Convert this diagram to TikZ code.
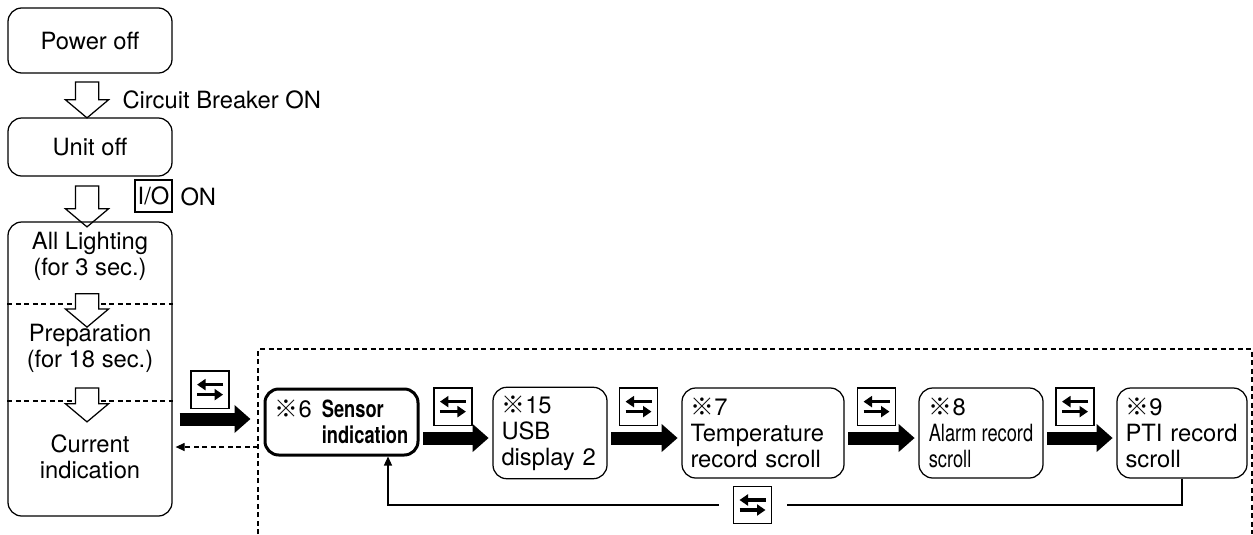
\documentclass[tikz,border=0pt]{standalone}
\usepackage{fontspec}
\setmainfont{TeX Gyre Heros}
\newfontfamily\cjk{Noto Sans CJK JP}
\newfontfamily\narrowfont[FakeStretch=0.77]{TeX Gyre Heros}
\usetikzlibrary{arrows.meta,positioning,shapes.arrows}
\newcommand\kome{{\cjk ※}}

\begin{document}
\begin{tikzpicture}[x=0.4pt, y=-0.4pt, font=\fontsize{9.5}{10.4}\selectfont,
  st/.style={draw, rounded corners=5.5pt, line width=0.5pt, minimum width=65.6pt, align=center},
  rbox/.style={st, minimum height=36pt, align=left, inner xsep=3.4pt},
  txt/.style={align=center, inner sep=0pt},
  harrow/.style={single arrow, draw, fill=white, line width=0.5pt, shape border rotate=270, minimum width=16.8pt, single arrow head extend=4pt, single arrow tip angle=100, inner sep=4.4pt},
  tgl/.style={draw, line width=0.5pt, minimum width=15.2pt, minimum height=15pt, inner sep=0pt,
    path picture={
      \draw[line width=1.4pt, shorten <=0pt, shorten >=0pt, -{Triangle[length=3.4pt,width=4.4pt]}] ([xshift=5.2pt,yshift=2pt]path picture bounding box.center) -- ++(-10.4pt,0pt);
      \draw[line width=1.4pt, shorten <=0pt, shorten >=0pt, -{Triangle[length=3.4pt,width=4.4pt]}] ([xshift=-5.2pt,yshift=-2pt]path picture bounding box.center) -- ++(10.4pt,0pt);}},
  bigarr/.style={line width=5.2pt, -{Triangle[length=6.4pt,width=10.8pt]}, shorten <=1.5pt, shorten >=1.5pt},
  back/.style={line width=0.5pt},
  frame/.style={line width=0.5pt, dash pattern=on 2pt off 1.4pt}]
\useasboundingbox (0,0) rectangle (1253,534);

\node[st, minimum height=26pt] (power) at (90,40.5) {Power off};
\node[harrow, minimum height=14.4pt] (h1) at (87,95) {};
\node[anchor=west, inner sep=0pt] (cb) at (122,100) {Circuit Breaker ON};
\node[st, minimum height=23.2pt] (unit) at (90,147) {Unit off};
\node[harrow, minimum height=16.4pt] (h2) at (87,201.5) {};
\node[draw, line width=0.5pt, minimum width=14.8pt, minimum height=12.8pt, inner sep=0pt] (io) at (153.5,196) {I/O};
\node[anchor=west, inner sep=0pt] (on) at (180,197) {ON};

\node[st, minimum height=117.6pt] (init) at (90,369) {};
\draw[frame] (init.west |- 0,304) -- (init.east |- 0,304);
\draw[frame] (init.west |- 0,401) -- (init.east |- 0,401);
\node[txt] (t1) at (90,256.5) {All Lighting\\(for 3 sec.)};
\node[harrow, minimum height=13.4pt] (h3) at (87,305.5) {};
\node[txt] (t2) at (90,348.5) {Preparation\\(for 18 sec.)};
\node[harrow, minimum height=13.6pt] (h4) at (87,400) {};
\node[txt] (t3) at (90,456.5) {Current\\indication};

\draw[frame] (258,534) -- (258,349) -- (1252,349) -- (1252,534);

\node[st, line width=1.2pt, minimum width=61.2pt, minimum height=26.4pt, align=left] (sensor) at (341.5,422)
  {\makebox[18.8pt][l]{\kome6}{\narrowfont\bfseries Sensor}\\\hspace*{18.8pt}{\narrowfont\bfseries indication}};
\node[rbox, minimum width=45.6pt, text width=38.8pt] (usb) at (550,433) {\kome15\\USB\\display 2};
\node[rbox, minimum width=64.8pt, text width=58pt] (temp) at (763,433) {\kome7\\Temperature\\record scroll};
\node[rbox, minimum width=49.6pt] (alarm) at (981,433) {\kome8\\{\narrowfont Alarm record}\\{\narrowfont scroll}};
\node[rbox, minimum width=52pt, text width=45.2pt] (pti) at (1182,433) {\kome9\\PTI record\\scroll};

\draw[bigarr, shorten <=2.8pt, shorten >=5.2pt] ([yshift=-20pt]init.east) -- node[tgl, above=4pt, xshift=-3.2pt] (k0) {} ([yshift=-20pt]init.east -| sensor.west);
\draw[bigarr] ([yshift=-2pt]usb.west -| sensor.east) -- node[tgl, above=4.8pt, xshift=-1.2pt] (k1) {} ([yshift=-2pt]usb.west);
\draw[bigarr] ([yshift=-2pt]usb.east) -- node[tgl, above=4.8pt, xshift=-2.4pt] (k2) {} ([yshift=-2pt]temp.west);
\draw[bigarr] ([yshift=-2pt]temp.east) -- node[tgl, above=4.8pt, xshift=-2pt] (k3) {} ([yshift=-2pt]alarm.west);
\draw[bigarr] ([yshift=-2pt]alarm.east) -- node[tgl, above=4.8pt, xshift=-2pt] (k4) {} ([yshift=-2pt]pti.west);

\node[tgl, outer sep=6pt] (kr) at (752.5,505) {};
\draw[back] (pti.south) |- (kr.east);
\draw[back, -{Triangle[length=3.6pt,width=3.2pt]}] (kr.west) -| ([xshift=18.6pt]sensor.south);

\coordinate (fb) at (258,447);
\draw[frame, shorten >=1.2pt, -{Triangle[length=3.6pt,width=3.2pt]}] (fb) -- (fb -| init.east);
\end{tikzpicture}
\end{document}
